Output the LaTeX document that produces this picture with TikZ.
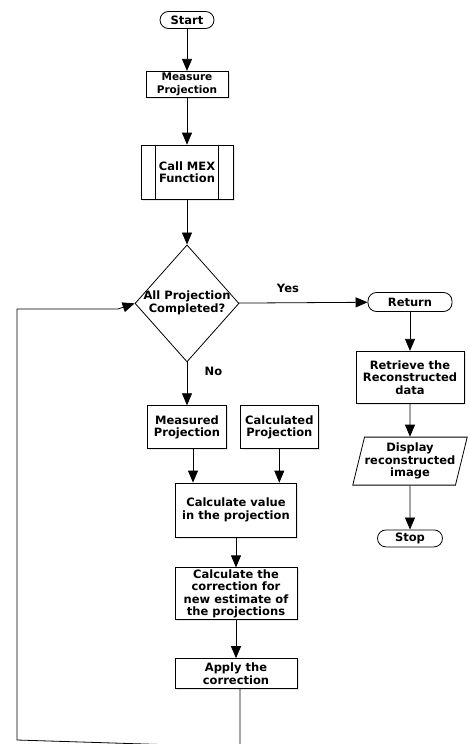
\documentclass[tikz,border=0pt]{standalone}
\usepackage{fontspec}
\setmainfont{DejaVu Sans}
\usetikzlibrary{positioning, shapes.geometric, arrows.meta, shadows, calc}

\begin{document}
\begin{tikzpicture}[x=1pt, y=1pt, >={Triangle[length=12pt,width=10pt]},
  line width=0.8pt, every node/.style={font=\bfseries\fontsize{11.5}{12.5}\selectfont},
  box/.style={rectangle,draw,fill=white,align=center,inner sep=0pt,
    drop shadow={opacity=0.2,shadow xshift=1.5pt,shadow yshift=-1.5pt}},
  term/.style={rectangle,rounded corners=8.5pt,draw,fill=white,inner sep=0pt,minimum height=17pt},
  decision/.style={diamond,draw,fill=white,inner sep=0pt,minimum width=104pt,minimum height=117pt},
  io/.style={trapezium,trapezium left angle=72,trapezium right angle=108,trapezium stretches=true,
    draw,fill=white,align=center,inner sep=0pt,minimum width=112pt,minimum height=48pt}]

\useasboundingbox (0,0) rectangle (470,-744);

\node[term, minimum width=54pt] (start) at (187,-20) {Start};
\node[box, minimum width=82pt, minimum height=26pt, font=\bfseries\fontsize{10.5}{12.3}\selectfont]
  (measure) [below=42pt of start] {Measure\\Projection};
\node[box, minimum width=92pt, minimum height=54pt] (mex) [below=47pt of measure] {Call MEX\\Function};
\node[decision] (check) [below=45pt of mex]
  {\makebox[0pt]{\begin{tabular}{@{}c@{}}All Projection\\Completed?\end{tabular}}};

\node[term, minimum width=84pt, minimum height=19pt] (return) at (410,-302) {Return};
\node[box, minimum width=108pt, minimum height=52pt] (retrieve) [below=39pt of return] {Retrieve the\\Reconstructed\\data};
\node[io] (display) [below=33pt of retrieve] {Display\\reconstructed\\image};
\node[term, minimum width=65pt] (stop) [below=44pt of display] {Stop};

\node[box, minimum width=79pt, minimum height=43pt] (measured) [below=43pt of check] {Measured\\Projection};
\node[box, minimum width=78pt, minimum height=43pt] (calculated) [right=13pt of measured] {Calculated\\Projection};
\node[box, minimum width=121pt, minimum height=54pt] (value) at (236,-510) {Calculate value\\in the projection};
\node[box, minimum width=122pt, minimum height=52pt] (correction) [below=30pt of value] {Calculate the\\correction for\\new estimate of\\the projections};
\node[box, minimum width=122pt, minimum height=30pt] (apply) [below=38pt of correction] {Apply the\\correction};

\coordinate (mout) at ($(measured.south)+(6,0)$);
\coordinate (aout) at ($(apply.south)+(4,0)$);
\coordinate (loopa) at (240,-747);
\coordinate (loopb) at (17,-740);
\coordinate (loopc) at (17,-309);
\coordinate (loopd) at (118,-309);

% main line
\draw[->] (start) -- (measure);
\draw[->] (measure) -- (mex);
\draw[->] (mex) -- (check);
\draw[->] (check) -- node[pos=0.38, above=6pt] {Yes} (return);
\draw[->] (check) -- node[pos=0.22, right=14pt] {No} (measured);

% right column
\draw[->] (return) -- (retrieve);
\draw[->] (retrieve) -- (display);
\draw[->] (display) -- (stop);

% correction loop
\draw[->] (mout) -- (mout |- value.north);
\draw[->] (calculated) -- (calculated |- value.north);
\draw[->] (value) -- (correction);
\draw[->] (correction) -- (apply);
\draw[->] (aout) -- (loopa) -- (loopb) -- (loopc) -- (loopd) -- (check.west);

\draw ($(mex.north west)+(15,0)$) -- ($(mex.south west)+(15,0)$);
\draw ($(mex.north east)+(-15,0)$) -- ($(mex.south east)+(-15,0)$);
\end{tikzpicture}
\end{document}
